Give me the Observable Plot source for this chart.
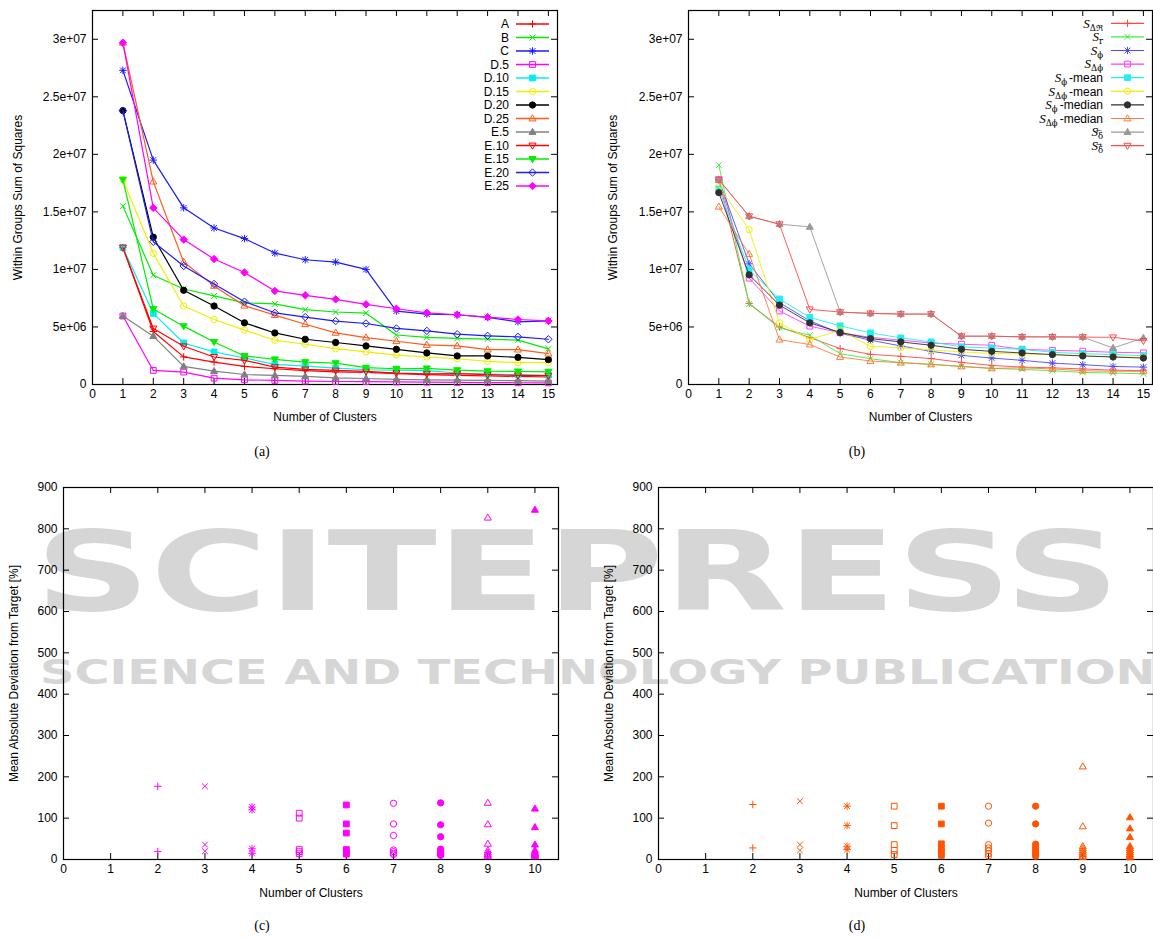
<!DOCTYPE html>
<html><head><meta charset="utf-8">
<script src="https://cdn.jsdelivr.net/npm/d3@7"></script>
<script src="https://cdn.jsdelivr.net/npm/@observablehq/plot@0.6"></script>
<style>
body{margin:0;background:#fff;width:1153px;height:940px;position:relative;overflow:hidden;font-family:"Liberation Sans",Arial,sans-serif;}
.panel{position:absolute;width:570px;}
.panel svg{max-width:none !important;}
.cap{position:absolute;font-family:"Liberation Serif","Times New Roman",serif;font-size:14px;transform:translate(-50%,-50%);}
#wm,#ov{position:absolute;left:0;top:0;}
#ov{pointer-events:none;}
</style></head><body>
<svg id="wm" width="1153" height="940"></svg>
<div id="pa" class="panel" style="left:0;top:0"></div>
<div id="pb" class="panel" style="left:595px;top:0"></div>
<div id="pc" class="panel" style="left:0;top:477px"></div>
<div id="pd" class="panel" style="left:595px;top:477px"></div>
<svg id="ov" width="1153" height="940"></svg>
<div class="cap" style="left:262px;top:452px">(a)</div>
<div class="cap" style="left:857px;top:452px">(b)</div>
<div class="cap" style="left:262px;top:926px">(c)</div>
<div class="cap" style="left:857px;top:926px">(d)</div>
<script>
// ---------- DATA ----------
const clusters = [1,2,3,4,5,6,7,8,9,10,11,12,13,14,15];
const xTicksAB = [0,1,2,3,4,5,6,7,8,9,10,11,12,13,14,15];
const yTicksAB = [0,5e6,1e7,1.5e7,2e7,2.5e7,3e7];
const yTickLabelsAB = ["0","5e+06","1e+07","1.5e+07","2e+07","2.5e+07","3e+07"];
const xTicksCD = [0,1,2,3,4,5,6,7,8,9,10];
const yTicksCD = [0,100,200,300,400,500,600,700,800,900];

// panel (a)
const legendA = ["A","B","C","D.5","D.10","D.15","D.20","D.25","E.5","E.10","E.15","E.20","E.25"];
const a_A   = [1.19e7,4.6e6,2.4e6,1.95e6,1.57e6,1.37e6,1.2e6,1.1e6,1.05e6,0.95e6,0.85e6,0.8e6,0.75e6,0.7e6,0.65e6];
const a_B   = [1.55e7,9.5e6,8.3e6,7.7e6,7.1e6,7.0e6,6.5e6,6.3e6,6.2e6,4.3e6,4.1e6,4.0e6,3.95e6,3.85e6,3.1e6];
const a_C   = [2.73e7,1.95e7,1.535e7,1.36e7,1.268e7,1.142e7,1.084e7,1.064e7,1.0e7,6.38e6,6.12e6,6.06e6,5.83e6,5.45e6,5.53e6];
const a_D5  = [5.95e6,1.22e6,1.08e6,0.55e6,0.41e6,0.35e6,0.29e6,0.26e6,0.25e6,0.22e6,0.2e6,0.18e6,0.17e6,0.15e6,0.14e6];
const a_D10 = [1.19e7,6.18e6,3.61e6,2.83e6,2.3e6,1.75e6,1.6e6,1.43e6,1.28e6,1.25e6,1.2e6,1.0e6,0.9e6,0.85e6,0.8e6];
const a_D15 = [1.78e7,1.14e7,6.82e6,5.65e6,4.72e6,3.85e6,3.5e6,3.12e6,2.83e6,2.56e6,2.39e6,2.24e6,2.01e6,1.9e6,1.9e6];
const a_D20 = [2.38e7,1.28e7,8.19e6,6.82e6,5.36e6,4.48e6,3.93e6,3.65e6,3.35e6,3.06e6,2.74e6,2.48e6,2.48e6,2.36e6,2.16e6];
const a_D25 = [2.97e7,1.763e7,1.064e7,8.57e6,6.85e6,6.03e6,5.24e6,4.49e6,4.08e6,3.76e6,3.44e6,3.35e6,3.03e6,3.03e6,2.68e6];
const a_E5  = [5.95e6,4.2e6,1.57e6,1.16e6,0.87e6,0.79e6,0.7e6,0.58e6,0.52e6,0.44e6,0.4e6,0.38e6,0.35e6,0.33e6,0.3e6];
const a_E10 = [1.19e7,4.87e6,3.32e6,2.39e6,2.1e6,1.51e6,1.31e6,1.22e6,1.14e6,0.99e6,0.93e6,0.95e6,0.85e6,0.79e6,0.77e6];
const a_E15 = [1.78e7,6.56e6,5.07e6,3.7e6,2.48e6,2.19e6,1.95e6,1.86e6,1.46e6,1.37e6,1.4e6,1.25e6,1.16e6,1.14e6,1.1e6];
const a_E20 = [2.38e7,1.24e7,1.03e7,8.74e6,7.2e6,6.23e6,5.86e6,5.51e6,5.3e6,4.87e6,4.66e6,4.37e6,4.23e6,4.14e6,3.93e6];
const a_E25 = [2.97e7,1.535e7,1.259e7,1.09e7,9.73e6,8.13e6,7.75e6,7.4e6,6.97e6,6.58e6,6.23e6,6.06e6,5.85e6,5.65e6,5.53e6];

// panel (b)
const b_dR        = [1.78e7,7.05e6,5.0e6,4.08e6,3.12e6,2.62e6,2.45e6,2.25e6,1.92e6,1.66e6,1.51e6,1.45e6,1.35e6,1.25e6,1.2e6];
const b_r         = [1.906e7,7.0e6,4.92e6,4.28e6,2.68e6,2.24e6,1.9e6,1.75e6,1.57e6,1.4e6,1.31e6,1.2e6,1.05e6,1.0e6,0.93e6];
const b_phi       = [1.78e7,1.049e7,7.11e6,5.53e6,4.45e6,3.85e6,3.35e6,2.88e6,2.53e6,2.3e6,2.1e6,1.86e6,1.72e6,1.57e6,1.51e6];
const b_dphi      = [1.78e7,9.24e6,6.38e6,5.07e6,4.5e6,4.1e6,3.85e6,3.6e6,3.5e6,3.41e6,3.06e6,2.97e6,2.9e6,2.8e6,2.75e6];
const b_phiMean   = [1.7e7,9.97e6,7.43e6,5.83e6,5.1e6,4.48e6,4.05e6,3.7e6,3.26e6,3.17e6,3.06e6,2.8e6,2.68e6,2.6e6,2.5e6];
const b_dphiMean  = [1.72e7,1.346e7,5.36e6,3.9e6,4.72e6,3.3e6,3.2e6,3.0e6,2.83e6,2.7e6,2.65e6,2.6e6,2.5e6,2.4e6,2.35e6];
const b_phiMedian = [1.667e7,9.53e6,6.9e6,5.36e6,4.52e6,3.99e6,3.7e6,3.41e6,3.06e6,2.88e6,2.74e6,2.6e6,2.48e6,2.39e6,2.3e6];
const b_dphiMedian= [1.545e7,1.134e7,3.9e6,3.47e6,2.39e6,2.04e6,1.9e6,1.75e6,1.57e6,1.4e6,1.45e6,1.35e6,1.2e6,1.15e6,1.15e6];
const b_deltaL    = [1.78e7,1.462e7,1.393e7,1.37e7,6.29e6,6.18e6,6.12e6,6.12e6,4.2e6,4.2e6,4.14e6,4.14e6,4.12e6,3.17e6,4.05e6];
const b_deltaR    = [1.78e7,1.462e7,1.393e7,6.53e6,6.29e6,6.18e6,6.12e6,6.12e6,4.2e6,4.2e6,4.14e6,4.14e6,4.12e6,4.1e6,3.79e6];

// panel (c): deviation per cluster, by number of clusters
const c2  = [177,19];
const c3  = [177,36,20];
const c4  = [127,120,26,15];
const c5  = [112,100,24,19,14];
const c6  = [132,86,64,24,18,13];
const c7  = [136,86,58,23,19,15,12];
const c8  = [137,84,55,25,20,16,13,10];
const c9  = [827,137,85,38,22,17,13,10,8];
const c10 = [846,123,78,36,22,18,15,12,10,8];
// panel (d)
const d2  = [133,28];
const d3v = [141,36,22];
const d4  = [129,82,32,24];
const d5  = [129,82,36,22,12];
const d6  = [129,86,38,28,18,10];
const d7  = [129,88,36,28,21,14,8];
const d8  = [129,86,37,30,24,18,13,8];
const d9  = [225,80,32,27,22,17,13,9,6];
const d10 = [102,75,54,32,27,22,17,12,8,5];

// ---------- SYMBOLS (gnuplot point types 1..13) ----------
function mkSym(kind){
  return {draw(ctx,size){
    const r=Math.sqrt(size/Math.PI);
    const s=r*0.78;
    if(kind==="plus"||kind==="asterisk"){ctx.moveTo(-r,0);ctx.lineTo(r,0);ctx.moveTo(0,-r);ctx.lineTo(0,r);}
    if(kind==="times"||kind==="asterisk"){ctx.moveTo(-s,-s);ctx.lineTo(s,s);ctx.moveTo(-s,s);ctx.lineTo(s,-s);}
    if(kind==="square"){ctx.moveTo(-s,-s);ctx.lineTo(s,-s);ctx.lineTo(s,s);ctx.lineTo(-s,s);ctx.closePath();}
    if(kind==="circle"){const c=r*0.85;ctx.moveTo(c,0);ctx.arc(0,0,c,0,2*Math.PI);}
    if(kind==="triUp"){ctx.moveTo(0,-r);ctx.lineTo(r*0.95,r*0.65);ctx.lineTo(-r*0.95,r*0.65);ctx.closePath();}
    if(kind==="triDown"){ctx.moveTo(0,r);ctx.lineTo(r*0.95,-r*0.65);ctx.lineTo(-r*0.95,-r*0.65);ctx.closePath();}
    if(kind==="diamond"){ctx.moveTo(0,-r);ctx.lineTo(r,0);ctx.lineTo(0,r);ctx.lineTo(-r,0);ctx.closePath();}
  }};
}
const PT = [
  {sym:mkSym("plus"),fill:false},{sym:mkSym("times"),fill:false},{sym:mkSym("asterisk"),fill:false},
  {sym:mkSym("square"),fill:false},{sym:mkSym("square"),fill:true},
  {sym:mkSym("circle"),fill:false},{sym:mkSym("circle"),fill:true},
  {sym:mkSym("triUp"),fill:false},{sym:mkSym("triUp"),fill:true},
  {sym:mkSym("triDown"),fill:false},{sym:mkSym("triDown"),fill:true},
  {sym:mkSym("diamond"),fill:false},{sym:mkSym("diamond"),fill:true}
];
const R = 3.7;
const FS = 12;

const colorsA = ["#ff0000","#00ee00","#1a1aff","#ff00ff","#00eeee","#eeee00","#000000","#ff5a1a","#808080","#ff0000","#00ee00","#1a1aff","#ff00ff"];
const seriesA = [a_A,a_B,a_C,a_D5,a_D10,a_D15,a_D20,a_D25,a_E5,a_E10,a_E15,a_E20,a_E25];
const colorsB = ["#ff4a4a","#3cef3c","#4a4aff","#ff3cff","#1ef0f0","#f0f000","#303030","#ff7a3c","#9a9a9a","#ff4a4a"];
const seriesB = [b_dR,b_r,b_phi,b_dphi,b_phiMean,b_dphiMean,b_phiMedian,b_dphiMedian,b_deltaL,b_deltaR];

function frameMarks(xTicks, yTicks, yLabels, W, H, m, xtitle, ytitle, xtDy, ytDx){
  const fw = W-m.l-m.r, fh = H-m.t-m.b, tl=6;
  const labMap = new Map(yTicks.map((d,i)=>[d, yLabels ? yLabels[i] : String(d)]));
  return [
    Plot.frame({stroke:"#000", strokeWidth:1.2}),
    Plot.tickX(xTicks,{x:d=>d, insetTop:fh-tl, stroke:"#000"}),
    Plot.tickX(xTicks,{x:d=>d, insetBottom:fh-tl, stroke:"#000"}),
    Plot.tickY(yTicks,{y:d=>d, insetRight:fw-tl, stroke:"#000"}),
    Plot.tickY(yTicks,{y:d=>d, insetLeft:fw-tl, stroke:"#000"}),
    Plot.axisX({ticks:xTicks, tickSize:0, tickPadding:5, label:null, fontSize:FS, tickFormat:d=>String(d)}),
    Plot.axisY({ticks:yTicks, tickSize:0, tickPadding:6, label:null, fontSize:FS, tickFormat:d=>labMap.get(d)}),
    Plot.text([xtitle],{text:d=>d, frameAnchor:"bottom", lineAnchor:"middle", textAnchor:"middle", dy:xtDy, fontSize:FS}),
    Plot.text([ytitle],{text:d=>d, frameAnchor:"left", lineAnchor:"middle", textAnchor:"middle", rotate:-90, dx:ytDx, fontSize:FS})
  ];
}

const plotStyle = {fontFamily:"Liberation Sans, Arial, sans-serif",fontSize:"12px",background:"transparent",overflow:"visible",maxWidth:"none"};

function linePanel(el, series, colors, lw, ytDx, ml){
  const W=570,H=435,m={l:ml,r:13,t:10,b:51};
  const marks=[];
  series.forEach((vals,k)=>{
    const data=vals.map((v,i)=>({x:clusters[i],y:v}));
    marks.push(Plot.line(data,{x:"x",y:"y",stroke:colors[k],strokeWidth:lw}));
    marks.push(Plot.dot(data,{x:"x",y:"y",symbol:PT[k].sym,r:R,stroke:colors[k],fill:PT[k].fill?colors[k]:"none",strokeWidth:1}));
  });
  const p = Plot.plot({
    width:W,height:H,marginLeft:m.l,marginRight:m.r,marginTop:m.t,marginBottom:m.b,
    x:{domain:[0,15.3]}, y:{domain:[0,3.25e7]},
    style:plotStyle,
    marks:[...frameMarks(xTicksAB,yTicksAB,yTickLabelsAB,W,H,m,"Number of Clusters","Within Groups Sum of Squares",33,ytDx), ...marks]
  });
  document.querySelector(el).append(p);
}

function scatterPanel(el, cols, color, ytDx){
  const W=570,H=440,m={l:63,r:12,t:10,b:58};
  const marks=[];
  cols.forEach((vals,k)=>{
    const nc=k+2;
    const data=vals.map(v=>({x:nc,y:v}));
    marks.push(Plot.dot(data,{x:"x",y:"y",symbol:PT[k].sym,r:R,stroke:color,fill:PT[k].fill?color:"none",strokeWidth:1}));
  });
  const p = Plot.plot({
    width:W,height:H,marginLeft:m.l,marginRight:m.r,marginTop:m.t,marginBottom:m.b,
    x:{domain:[0,10.5]}, y:{domain:[0,900]},
    style:plotStyle,
    marks:[...frameMarks(xTicksCD,yTicksCD,null,W,H,m,"Number of Clusters","Mean Absolute Deviation from Target [%]",34,ytDx), ...marks]
  });
  document.querySelector(el).append(p);
}

linePanel("#pa", seriesA, colorsA, 1.2, -74, 92);
linePanel("#pb", seriesB, colorsB, 0.9, -75, 93);
scatterPanel("#pc", [c2,c3,c4,c5,c6,c7,c8,c9,c10], "#ff00ff", -49);
scatterPanel("#pd", [d2,d3v,d4,d5,d6,d7,d8,d9,d10], "#ff5500", -49);

// ---------- LEGENDS ----------
const ov = d3.select("#ov");
function legendRow(g, y, xText, x1, x2, color, pt, lw, labelFn){
  const t = g.append("text").attr("x",xText).attr("y",y).attr("dy","0.35em").attr("text-anchor","end")
    .attr("font-size",FS).attr("font-family","Liberation Sans, Arial, sans-serif");
  labelFn(t, y);
  g.append("line").attr("x1",x1).attr("x2",x2).attr("y1",y).attr("y2",y).attr("stroke",color).attr("stroke-width",lw);
  g.append("path").attr("transform",`translate(${(x1+x2)/2},${y})`)
    .attr("d",d3.symbol().type(PT[pt].sym).size(Math.PI*R*R)())
    .attr("stroke",color).attr("fill",PT[pt].fill?color:"none");
}
const gA = ov.append("g");
legendA.forEach((name,i)=>legendRow(gA, 24+i*13.5, 509, 516, 549, colorsA[i], i, 1.5, t=>t.text(name)));

const legendBSub = ["Δℜ","r","ϕ","Δϕ","ϕ","Δϕ","ϕ","Δϕ","δ","δ"];
const legendBArrow = ["","","","","","","","","←","→"];
const legendBSuffix = ["","","","","-mean","-mean","-median","-median","",""];
const gB = ov.append("g");
legendBSub.forEach((sub,i)=>legendRow(gB, 23.3+i*13.6, 1103, 1111, 1144, colorsB[i], i, 1.2, (t,y)=>{
  t.append("tspan").attr("font-family","Liberation Serif, serif").attr("font-style","italic").attr("font-size",13).text("S");
  t.append("tspan").attr("font-family","DejaVu Serif, serif").attr("font-size",8.5).attr("dy",3).text(sub);
  if(legendBSuffix[i]) t.append("tspan").attr("dy",-3).attr("dx",2).text(legendBSuffix[i]);
  if(legendBArrow[i]) gB.append("text").attr("x",1099).attr("y",y+1).attr("text-anchor","middle")
    .attr("font-family","DejaVu Sans, sans-serif").attr("font-size",7).text(legendBArrow[i]);
}));

// ---------- WATERMARK ----------
const wm = d3.select("#wm");
wm.append("text").attr("x",35).attr("y",610).attr("textLength",1085).attr("lengthAdjust","spacingAndGlyphs")
  .attr("font-family","DejaVu Sans, sans-serif").attr("font-weight","bold").attr("font-size",110).attr("fill","#d6d6d6").text("SCITEPRESS");
wm.append("text").attr("x",40).attr("y",684).attr("textLength",1150).attr("lengthAdjust","spacingAndGlyphs")
  .attr("font-family","DejaVu Sans, sans-serif").attr("font-weight","bold").attr("font-size",34).attr("fill","#d6d6d6").text("SCIENCE AND TECHNOLOGY PUBLICATIONS");
</script>
</body></html>
